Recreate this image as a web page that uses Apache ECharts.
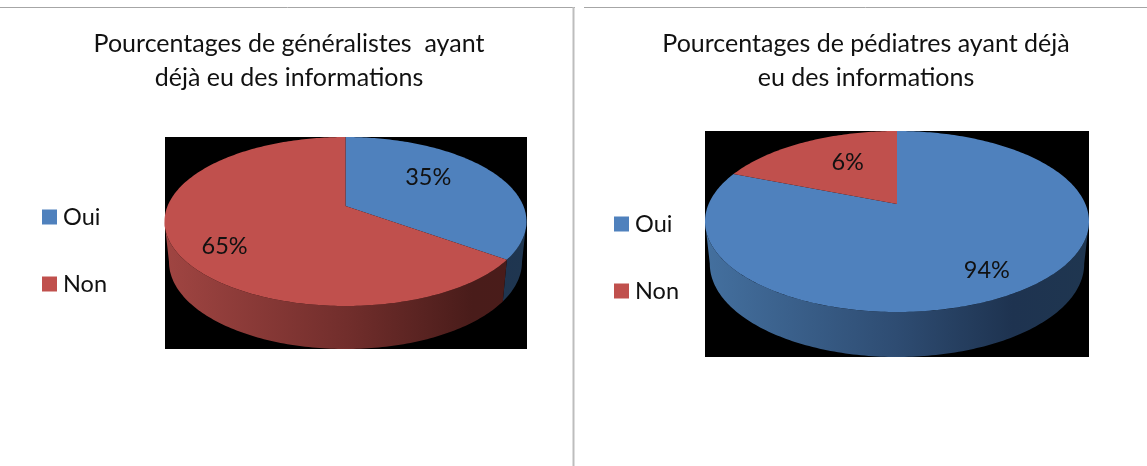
<!DOCTYPE html>
<html><head><meta charset="utf-8">
<style>html,body{margin:0;padding:0;background:#fff}#c{width:1147px;height:466px}</style>
<script src="https://cdn.jsdelivr.net/npm/echarts@6/dist/echarts.min.js"></script>
</head><body><div id="c"></div>
<script>
const categories = ['Oui', 'Non'];
// slice sizes as drawn in the picture
const generalistShares = [35, 65];
const pediatricianShares = [81, 19];
// printed labels
const generalistLabels = ['35%', '65%'];
const pediatricianLabels = ['94%', '6%'];
const titleGeneralists = 'Pourcentages de généralistes  ayant\ndéjà eu des informations';
const titlePediatricians = 'Pourcentages de pédiatres ayant déjà\neu des informations';

const FONT = 'Lato';
const TOP = ['#4f81bd', '#c0504d'];
const WALL = [
  [[0, '#44709f'], [0.5, '#2e4c72'], [0.8, '#1e3350'], [1, '#1f3650']],
  [[0, '#a04542'], [0.5, '#722e2c'], [0.85, '#491c1a'], [1, '#4a1c1a']]
];
const left = {cx: 345.5, apexY: 206, rx: 181, back: 69, front: 100, depth: 43, box: [165, 137, 362, 212],
  shares: generalistShares, labels: generalistLabels, offs: [[-15, -6], [-12, 15]], lg: {left: 42, top: 205}};
const right = {cx: 897, apexY: 204, rx: 192, back: 73, front: 108, depth: 45, box: [705, 131, 384, 226],
  shares: pediatricianShares, labels: pediatricianLabels, offs: [[13, 14], [13, 1]], lg: {left: 614, top: 212}};

function projector(p) {
  const k = (p.front - p.back) / (p.front + p.back);
  const a = p.back * (1 + k), b = p.rx * Math.sqrt(1 - k * k);
  const fn = function (r, deg) {
    const t = deg * Math.PI / 180, u = r * Math.sin(t), v = -r * Math.cos(t), d = 1 - k * v;
    return [p.cx + b * u / d, p.apexY + a * v / d];
  };
  fn.widest = Math.acos(-k) * 180 / Math.PI;
  return fn;
}
function makeSeries(p, i) {
  const total = p.shares.reduce((s, x) => s + x, 0);
  const before = p.shares.slice(0, i).reduce((s, x) => s + x, 0);
  const a0 = before / total * 360, a1 = (before + p.shares[i]) / total * 360;
  const proj = projector(p);
  const renderItem = function () {
    const arc = [];
    for (let d = a0; d < a1; d += 1) arc.push(proj(1, d));
    arc.push(proj(1, a1));
    const wallArc = [];
    const w0 = Math.max(a0, proj.widest), w1 = Math.min(a1, 360 - proj.widest);
    if (w1 > w0) {
      for (let d = w0; d < w1; d += 1) wallArc.push(proj(1, d));
      wallArc.push(proj(1, w1));
    }
    const low = wallArc.slice().reverse().map(q => [p.cx + 0.975 * (q[0] - p.cx), q[1] + p.depth * (0.93 + 0.07 * Math.max(0, (q[1] - p.apexY) / p.front))]);
    const children = [];
    if (wallArc.length) children.push({
      type: 'polygon', z2: 1, shape: {points: wallArc.concat(low)},
      style: {fill: {type: 'linear', global: true, x: p.cx - p.rx, y: 0, x2: p.cx + p.rx, y2: 0,
        colorStops: WALL[i].map(s => ({offset: s[0], color: s[1]}))}}
    });
    children.push({type: 'polygon', z2: 2, shape: {points: [proj(0, 0)].concat(arc)}, style: {fill: TOP[i]}});
    const m = proj(0.65, (a0 + a1) / 2);
    children.push({type: 'text', z2: 3, x: m[0] + p.offs[i][0], y: m[1] + p.offs[i][1],
      style: {text: p.labels[i], fill: '#111', font: '23.5px ' + FONT, align: 'center', verticalAlign: 'middle'}});
    return {type: 'group', children};
  };
  return {type: 'custom', name: categories[i], coordinateSystem: 'none', silent: true,
    itemStyle: {color: TOP[i]}, data: [[p.shares[i]]], renderItem};
}
const titleStyle = {fontFamily: FONT, fontSize: 25, fontWeight: 'normal', color: '#111', lineHeight: 34};
const legendOf = p => ({orient: 'vertical', left: p.lg.left, top: p.lg.top, data: categories, selectedMode: false,
  icon: 'rect', itemWidth: 15, itemHeight: 15, itemGap: 43, padding: 0,
  textStyle: {fontFamily: FONT, fontSize: 23.5, color: '#111', padding: [0, 0, 0, 1]}});
const boxOf = p => ({type: 'rect', z: 0, shape: {x: p.box[0], y: p.box[1], width: p.box[2], height: p.box[3]}, style: {fill: '#000'}});
const rule = (x1, y1, x2, y2, w, c) => ({type: 'line', z: 0, shape: {x1, y1, x2, y2}, style: {stroke: c, lineWidth: w}});

const chart = echarts.init(document.getElementById('c'), null, {renderer: 'canvas'});
chart.setOption({
  animation: false, backgroundColor: '#fff',
  title: [
    {text: titleGeneralists, left: 289, top: 27, textAlign: 'center', padding: 0, textStyle: titleStyle},
    {text: titlePediatricians, left: 866, top: 27, textAlign: 'center', padding: 0, textStyle: titleStyle}
  ],
  legend: [legendOf(left), legendOf(right)],
  graphic: [boxOf(left), boxOf(right),
    rule(0, 7.5, 575, 7.5, 1, '#a6a6a6'), rule(584, 7.5, 1147, 7.5, 1, '#a6a6a6'), rule(573.5, 7, 573.5, 466, 2, '#bdbdbd')],
  series: [makeSeries(left, 0), makeSeries(left, 1), makeSeries(right, 0), makeSeries(right, 1)]
});
</script></body></html>
